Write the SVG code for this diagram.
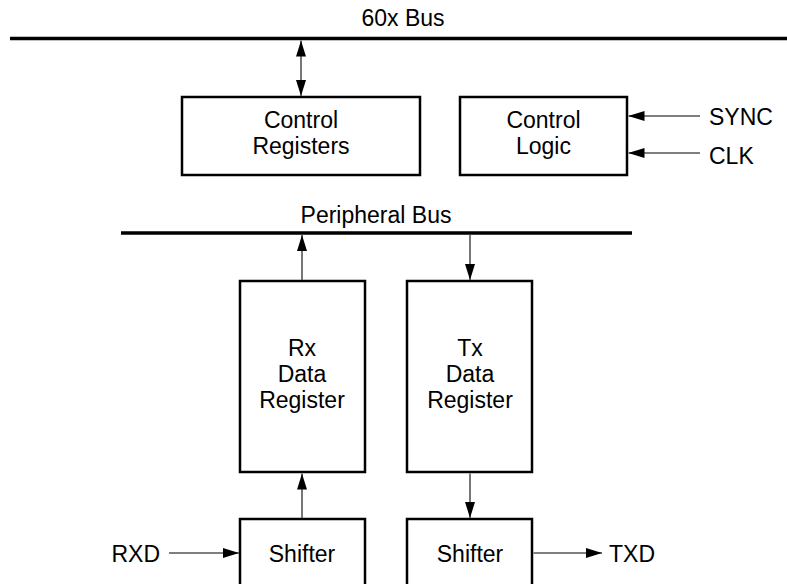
<svg xmlns="http://www.w3.org/2000/svg" width="787" height="584" viewBox="0 0 787 584">
<style>
text{font-family:"Liberation Sans",Arial,sans-serif;font-size:23px;fill:#000}
.c{text-anchor:middle}
.box{fill:#fff;stroke:#000;stroke-width:2.5}
.bus{stroke:#000;stroke-width:3.5;fill:none}
.conn{stroke:#555;stroke-width:1.6;fill:none}
</style>
<defs>
<marker id="ah" viewBox="0 0 16 10" refX="16" refY="5" markerUnits="userSpaceOnUse" markerWidth="16" markerHeight="10" orient="auto-start-reverse">
<path d="M0,0 L16,5 L0,10 Z" fill="#000"/>
</marker>
</defs>
<g id="bus60x">
<line class="bus" x1="10" y1="38.5" x2="787" y2="38.5"/>
<text class="c" x="403" y="26">60x Bus</text>
</g>
<g id="peripheralBus">
<line class="bus" x1="121" y1="233" x2="632" y2="233"/>
<text class="c" x="376" y="223">Peripheral Bus</text>
</g>
<g id="controlRegisters">
<rect class="box" x="182" y="97" width="238" height="78"/>
<text class="c" x="301" y="128">Control</text>
<text class="c" x="301" y="154">Registers</text>
</g>
<g id="controlLogic">
<rect class="box" x="460" y="97" width="167" height="78"/>
<text class="c" x="543.5" y="128">Control</text>
<text class="c" x="543.5" y="154">Logic</text>
</g>
<g id="sync"><text x="709" y="125">SYNC</text></g>
<g id="clk"><text x="709" y="164">CLK</text></g>
<g id="rxDataRegister">
<rect class="box" x="240" y="281" width="125" height="191"/>
<text class="c" x="302" y="356">Rx</text>
<text class="c" x="302" y="382">Data</text>
<text class="c" x="302" y="408">Register</text>
</g>
<g id="txDataRegister">
<rect class="box" x="407" y="281" width="125" height="191"/>
<text class="c" x="470" y="356">Tx</text>
<text class="c" x="470" y="382">Data</text>
<text class="c" x="470" y="408">Register</text>
</g>
<g id="rxShifter">
<rect class="box" x="240" y="519" width="125" height="80"/>
<text class="c" x="302" y="562">Shifter</text>
</g>
<g id="txShifter">
<rect class="box" x="407" y="519" width="125" height="80"/>
<text class="c" x="470" y="562">Shifter</text>
</g>
<g id="rxd"><text x="160" y="562" text-anchor="end">RXD</text></g>
<g id="txd"><text x="609" y="562">TXD</text></g>
<g id="connectors">
<line class="conn" x1="301" y1="40.5" x2="301" y2="96" marker-start="url(#ah)" marker-end="url(#ah)"/>
<line class="conn" x1="700" y1="116" x2="628.5" y2="116" marker-end="url(#ah)"/>
<line class="conn" x1="700" y1="153" x2="628.5" y2="153" marker-end="url(#ah)"/>
<line class="conn" x1="302" y1="280" x2="302" y2="235" marker-end="url(#ah)"/>
<line class="conn" x1="470" y1="235" x2="470" y2="280" marker-end="url(#ah)"/>
<line class="conn" x1="302" y1="518" x2="302" y2="473.5" marker-end="url(#ah)"/>
<line class="conn" x1="470" y1="473.5" x2="470" y2="518" marker-end="url(#ah)"/>
<line class="conn" x1="169" y1="553" x2="239" y2="553" marker-end="url(#ah)"/>
<line class="conn" x1="533.5" y1="553" x2="602" y2="553" marker-end="url(#ah)"/>
</g>
</svg>
